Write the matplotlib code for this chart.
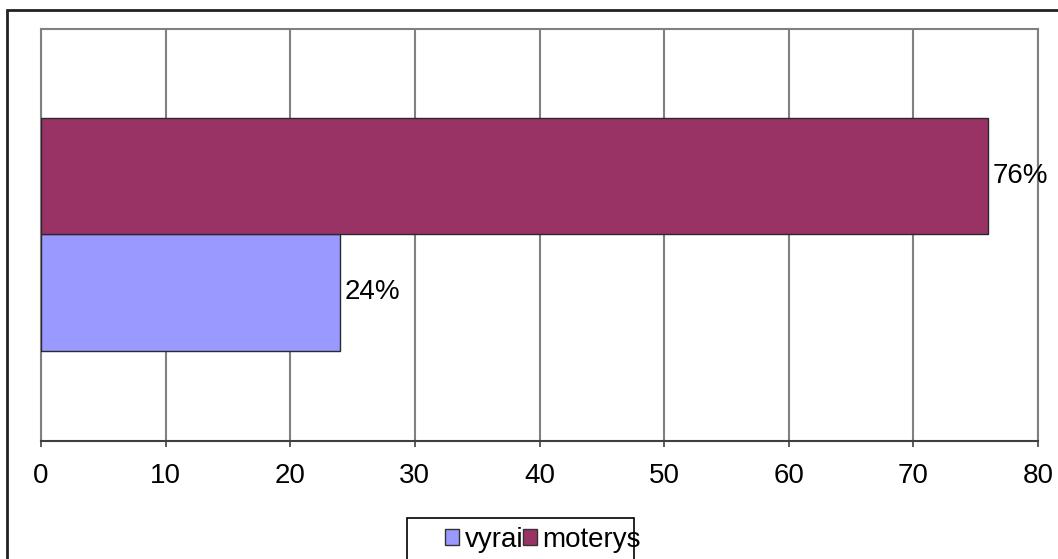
import matplotlib
matplotlib.use("Agg")
import matplotlib.pyplot as plt
from matplotlib.patches import Rectangle, Patch

plt.rcParams['font.family'] = ['Liberation Sans', 'DejaVu Sans']

series = ["vyrai", "moterys"]
values = [24, 76]
labels = ["24%", "76%"]
colors = ["#9999FF", "#993366"]
xticks = [0, 10, 20, 30, 40, 50, 60, 70, 80]

W, H = 1058, 559
fig = plt.figure(figsize=(W / 100, H / 100), dpi=100)
ax = fig.add_axes([41 / W, 1 - 441 / H, 997 / W, 412 / H])

bar_h = 0.283
offsets = [-0.1395, 0.1435]
for name, v, lab, c, off in zip(series, values, labels, colors, offsets):
    ax.barh(off, v, height=bar_h, color=c, edgecolor="#2a2a2a", linewidth=1.0, zorder=3)
    ax.text(v + 0.35, off, lab, va="center", ha="left", fontsize=20, color="black")

ax.set_xlim(0, 80)
ax.set_ylim(-0.5, 0.5)
ax.set_xticks(xticks)
ax.set_xticklabels([str(t) for t in xticks], fontsize=20)
ax.set_yticks([])
ax.grid(axis="x", color="#808080", linewidth=1.5, zorder=0)
ax.tick_params(axis="x", direction="out", length=4.5, width=1.2, color="#404040", pad=11)
for s in ["top", "right", "left"]:
    ax.spines[s].set_color("#808080")
    ax.spines[s].set_linewidth(1.5)
ax.spines["bottom"].set_color("#404040")
ax.spines["bottom"].set_linewidth(1.5)

# outer chart border
fig.patches.append(Rectangle((7 / W, -0.05), 1.1, 1 - 10 / H + 0.05, transform=fig.transFigure,
                             fill=False, edgecolor="#222222", linewidth=2.0))

# legend box
fig.patches.append(Rectangle((407 / W, -0.05), 227 / W, 1 - 518 / H + 0.05, transform=fig.transFigure,
                             fill=False, edgecolor="black", linewidth=1.2, zorder=5))

handles = [Patch(facecolor=c, edgecolor="#333333", linewidth=1.0) for c in colors]
leg = fig.legend(handles, series, loc="center left", bbox_to_anchor=(445 / W, 1 - 540 / H),
                 ncol=2, fontsize=20, frameon=False, handlelength=0.5,
                 handleheight=0.5, handletextpad=0.2, columnspacing=0.0,
                 borderpad=0, borderaxespad=0)

fig.savefig("out.png", dpi=100)
